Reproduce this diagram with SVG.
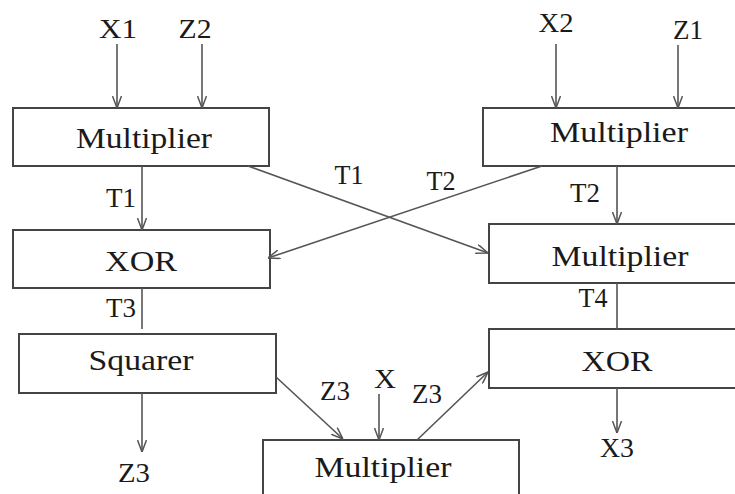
<svg xmlns="http://www.w3.org/2000/svg" width="735" height="494" viewBox="0 0 735 494">
  <style>
    .box { fill: #fff; stroke: #444; stroke-width: 2; }
    .lbl { font-family: "Liberation Serif", "Times New Roman", serif; fill: #1a1a1a; text-anchor: middle; }
    .big { font-size: 30px; }
    .sm { font-size: 28px; }
    .top { font-size: 27px; }
    .wire { stroke: #555; stroke-width: 1.6; fill: none; }
    .arr { marker-end: url(#head); }
  </style>
  <defs>
    <marker id="head" viewBox="0 0 12 10" refX="12" refY="5" markerWidth="12" markerHeight="10" markerUnits="userSpaceOnUse" orient="auto">
      <path d="M0,0.5 L12,5 L0,9.5" fill="none" stroke="#555" stroke-width="1.5"/>
    </marker>
  </defs>
  <rect width="735" height="494" fill="#fff"/>

  <g id="mult-top-left">
    <rect class="box" x="13" y="108" width="256" height="58"/>
    <text class="lbl big" font-family="Liberation Serif, serif" x="144" y="148" textLength="136" lengthAdjust="spacingAndGlyphs">Multiplier</text>
  </g>
  <g id="mult-top-right">
    <rect class="box" x="483" y="108" width="262" height="58"/>
    <text class="lbl big" font-family="Liberation Serif, serif" x="619" y="142" textLength="138" lengthAdjust="spacingAndGlyphs">Multiplier</text>
  </g>
  <g id="xor-left">
    <rect class="box" x="13" y="230" width="257" height="58"/>
    <text class="lbl big" font-family="Liberation Serif, serif" x="141" y="271" textLength="72" lengthAdjust="spacingAndGlyphs">XOR</text>
  </g>
  <g id="mult-right">
    <rect class="box" x="489" y="224" width="256" height="59"/>
    <text class="lbl big" font-family="Liberation Serif, serif" x="620" y="266" textLength="137" lengthAdjust="spacingAndGlyphs">Multiplier</text>
  </g>
  <g id="squarer">
    <rect class="box" x="19" y="334" width="257" height="59"/>
    <text class="lbl big" font-family="Liberation Serif, serif" x="141" y="370" textLength="105" lengthAdjust="spacingAndGlyphs">Squarer</text>
  </g>
  <g id="xor-right">
    <rect class="box" x="489" y="329" width="256" height="59"/>
    <text class="lbl big" font-family="Liberation Serif, serif" x="617" y="371" textLength="71" lengthAdjust="spacingAndGlyphs">XOR</text>
  </g>
  <g id="mult-bottom">
    <rect class="box" x="263" y="440" width="256" height="70"/>
    <text class="lbl big" font-family="Liberation Serif, serif" x="383" y="477" textLength="137" lengthAdjust="spacingAndGlyphs">Multiplier</text>
  </g>

  <g id="connectors">
    <line class="wire arr" x1="117" y1="44" x2="117" y2="108"/>
    <line class="wire arr" x1="202" y1="44" x2="202" y2="108"/>
    <line class="wire arr" x1="556" y1="44" x2="556" y2="108"/>
    <line class="wire arr" x1="678" y1="45" x2="678" y2="108"/>
    <line class="wire arr" x1="142" y1="166" x2="142" y2="230"/>
    <line class="wire arr" x1="248" y1="166" x2="488" y2="253"/>
    <line class="wire arr" x1="542" y1="166" x2="268" y2="258"/>
    <line class="wire arr" x1="617" y1="166" x2="617" y2="224"/>
    <line class="wire" x1="142" y1="288" x2="142" y2="329"/>
    <line class="wire" x1="617" y1="283" x2="617" y2="329"/>
    <line class="wire arr" x1="142" y1="393" x2="142" y2="452"/>
    <line class="wire arr" x1="276" y1="377" x2="343" y2="439"/>
    <line class="wire arr" x1="379" y1="394" x2="379" y2="440"/>
    <line class="wire arr" x1="417" y1="440" x2="488" y2="372"/>
    <line class="wire arr" x1="617" y1="388" x2="617" y2="433"/>
  </g>

  <g id="signal-labels" font-family="Liberation Serif, serif">
    <text class="lbl top" x="118" y="38" textLength="38" lengthAdjust="spacingAndGlyphs">X1</text>
    <text class="lbl top" x="195" y="38" textLength="33" lengthAdjust="spacingAndGlyphs">Z2</text>
    <text class="lbl top" x="556" y="32" textLength="35" lengthAdjust="spacingAndGlyphs">X2</text>
    <text class="lbl top" x="688" y="39" textLength="30" lengthAdjust="spacingAndGlyphs">Z1</text>
    <text class="lbl sm" x="121" y="207" textLength="30" lengthAdjust="spacingAndGlyphs">T1</text>
    <text class="lbl sm" x="349" y="184" textLength="29" lengthAdjust="spacingAndGlyphs">T1</text>
    <text class="lbl sm" x="441" y="190" textLength="29" lengthAdjust="spacingAndGlyphs">T2</text>
    <text class="lbl sm" x="585" y="202" textLength="30" lengthAdjust="spacingAndGlyphs">T2</text>
    <text class="lbl sm" x="121" y="317" textLength="30" lengthAdjust="spacingAndGlyphs">T3</text>
    <text class="lbl sm" x="593" y="307" textLength="29" lengthAdjust="spacingAndGlyphs">T4</text>
    <text class="lbl sm" x="134" y="482" textLength="32" lengthAdjust="spacingAndGlyphs">Z3</text>
    <text class="lbl sm" x="335" y="400" textLength="30" lengthAdjust="spacingAndGlyphs">Z3</text>
    <text class="lbl sm" x="385" y="388" textLength="22" lengthAdjust="spacingAndGlyphs">X</text>
    <text class="lbl sm" x="427" y="403" textLength="30" lengthAdjust="spacingAndGlyphs">Z3</text>
    <text class="lbl sm" x="617" y="457" textLength="34" lengthAdjust="spacingAndGlyphs">X3</text>
  </g>
</svg>
